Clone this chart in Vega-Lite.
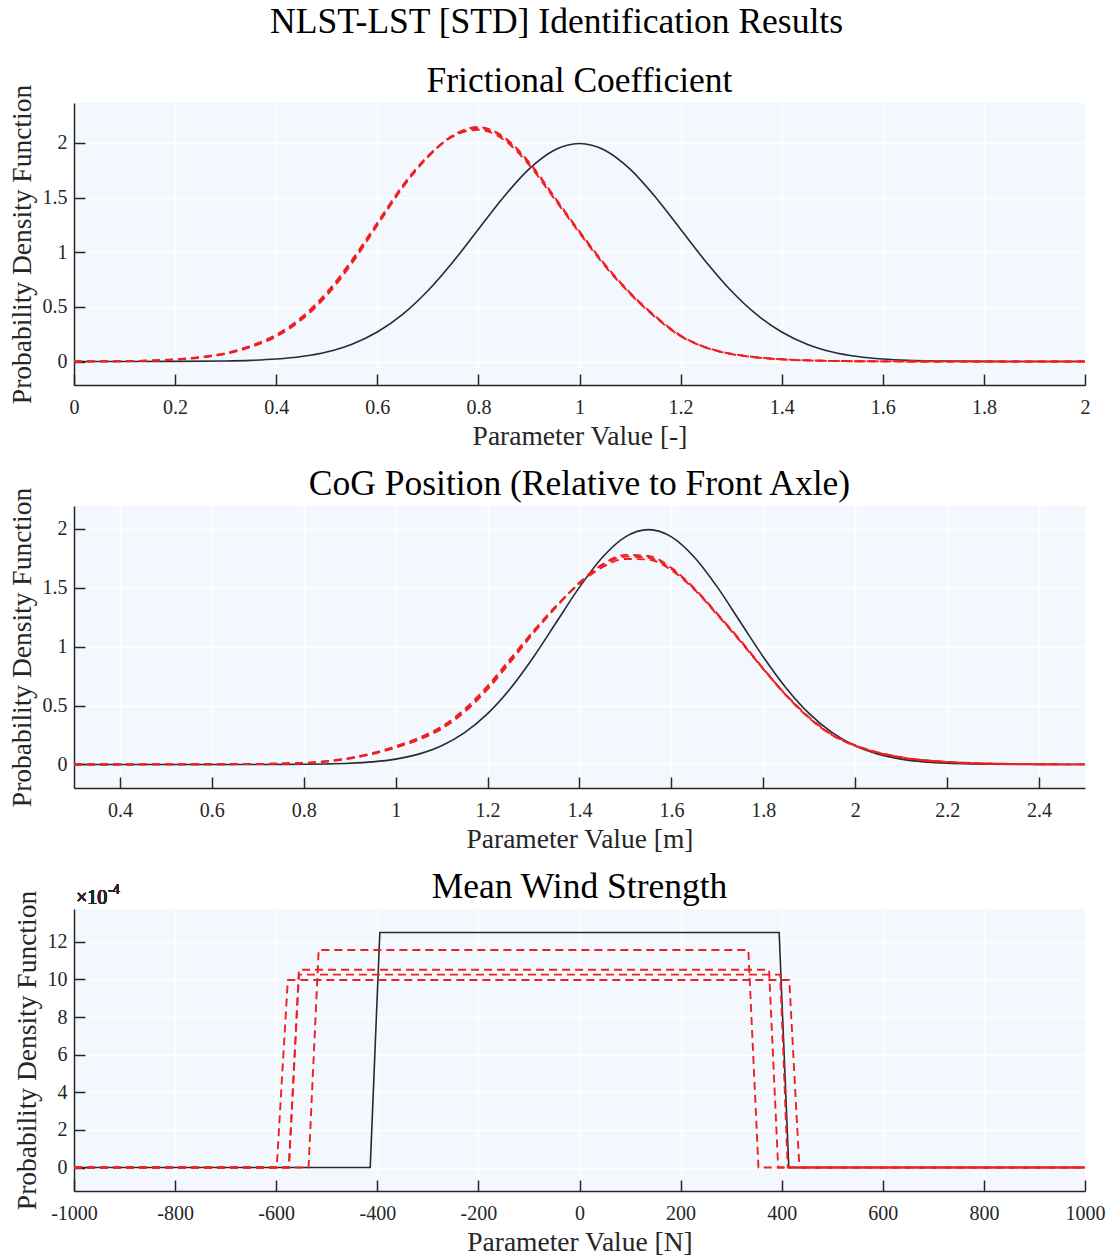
{
  "$schema": "https://vega.github.io/schema/vega-lite/v6.json",
  "background": "white",
  "padding": {"left": 7, "top": 5, "right": 20, "bottom": 0},
  "title": {"text": "NLST-LST [STD] Identification Results", "fontSize": 35.5, "font": "Liberation Serif", "fontWeight": "normal", "anchor": "middle", "color": "#000000", "offset": 23},
  "spacing": 16,
  "config": {
    "font": "Liberation Serif",
    "view": {"fill": "#F3F7FE", "stroke": null},
    "title": {"font": "Liberation Serif", "fontSize": 35.5, "fontWeight": "normal", "color": "#000000", "offset": -15},
    "axis": {"domainColor": "#262626", "domainWidth": 1.5, "tickColor": "#262626", "tickWidth": 1.5, "tickSize": -11, "gridColor": "#FFFFFF", "gridWidth": 1.5, "labelFont": "Liberation Serif", "labelFontSize": 20, "labelColor": "#262626", "titleFont": "Liberation Serif", "titleFontSize": 27.5, "titleFontWeight": "normal", "titleColor": "#262626", "labelFlush": false, "labelOverlap": false},
    "axisX": {"labelPadding": 23, "titlePadding": 5},
    "axisY": {"labelPadding": 18, "titlePadding": 6}
  },
  "datasets": {
    "fric": [
      {"value": 0, "density": 0, "series": "True"}, {"value": 0.1, "density": 0, "series": "True"}, {"value": 0.2, "density": 0.0007, "series": "True"}, {"value": 0.3, "density": 0.0044, "series": "True"}, {"value": 0.35, "density": 0.0101, "series": "True"}, {"value": 0.4, "density": 0.0222, "series": "True"}, {"value": 0.45, "density": 0.0455, "series": "True"}, {"value": 0.5, "density": 0.0876, "series": "True"}, {"value": 0.55, "density": 0.1587, "series": "True"}, {"value": 0.6, "density": 0.27, "series": "True"}, {"value": 0.65, "density": 0.4315, "series": "True"}, {"value": 0.7, "density": 0.6477, "series": "True"}, {"value": 0.75, "density": 0.9132, "series": "True"}, {"value": 0.8, "density": 1.2099, "series": "True"}, {"value": 0.85, "density": 1.5057, "series": "True"}, {"value": 0.9, "density": 1.7603, "series": "True"}, {"value": 0.95, "density": 1.9333, "series": "True"}, {"value": 1.0, "density": 1.9947, "series": "True"}, {"value": 1.05, "density": 1.9333, "series": "True"}, {"value": 1.1, "density": 1.7603, "series": "True"}, {"value": 1.15, "density": 1.5057, "series": "True"}, {"value": 1.2, "density": 1.2099, "series": "True"}, {"value": 1.25, "density": 0.9132, "series": "True"}, {"value": 1.3, "density": 0.6477, "series": "True"}, {"value": 1.35, "density": 0.4315, "series": "True"}, {"value": 1.4, "density": 0.27, "series": "True"}, {"value": 1.45, "density": 0.1587, "series": "True"}, {"value": 1.5, "density": 0.0876, "series": "True"}, {"value": 1.55, "density": 0.0455, "series": "True"}, {"value": 1.6, "density": 0.0222, "series": "True"}, {"value": 1.65, "density": 0.0101, "series": "True"}, {"value": 1.7, "density": 0.0044, "series": "True"}, {"value": 1.8, "density": 0.0007, "series": "True"}, {"value": 1.9, "density": 0.0001, "series": "True"}, {"value": 2.0, "density": 0, "series": "True"},
      {"value": 0, "density": 0.0003, "series": "Run 1"}, {"value": 0.1, "density": 0.003, "series": "Run 1"}, {"value": 0.2, "density": 0.018, "series": "Run 1"}, {"value": 0.25, "density": 0.038, "series": "Run 1"}, {"value": 0.3, "density": 0.072, "series": "Run 1"}, {"value": 0.35, "density": 0.138, "series": "Run 1"}, {"value": 0.4, "density": 0.236, "series": "Run 1"}, {"value": 0.45, "density": 0.392, "series": "Run 1"}, {"value": 0.5, "density": 0.615, "series": "Run 1"}, {"value": 0.55, "density": 0.912, "series": "Run 1"}, {"value": 0.6, "density": 1.255, "series": "Run 1"}, {"value": 0.65, "density": 1.598, "series": "Run 1"}, {"value": 0.7, "density": 1.872, "series": "Run 1"}, {"value": 0.75, "density": 2.065, "series": "Run 1"}, {"value": 0.8, "density": 2.135, "series": "Run 1"}, {"value": 0.85, "density": 2.045, "series": "Run 1"}, {"value": 0.9, "density": 1.815, "series": "Run 1"}, {"value": 0.95, "density": 1.5, "series": "Run 1"}, {"value": 1.0, "density": 1.185, "series": "Run 1"}, {"value": 1.05, "density": 0.885, "series": "Run 1"}, {"value": 1.1, "density": 0.625, "series": "Run 1"}, {"value": 1.15, "density": 0.41, "series": "Run 1"}, {"value": 1.2, "density": 0.235, "series": "Run 1"}, {"value": 1.25, "density": 0.128, "series": "Run 1"}, {"value": 1.3, "density": 0.07, "series": "Run 1"}, {"value": 1.35, "density": 0.038, "series": "Run 1"}, {"value": 1.4, "density": 0.02, "series": "Run 1"}, {"value": 1.45, "density": 0.01, "series": "Run 1"}, {"value": 1.5, "density": 0.005, "series": "Run 1"}, {"value": 1.6, "density": 0.0012, "series": "Run 1"}, {"value": 1.7, "density": 0.0003, "series": "Run 1"}, {"value": 1.8, "density": 0, "series": "Run 1"}, {"value": 2.0, "density": 0, "series": "Run 1"},
      {"value": 0, "density": 0.0004, "series": "Run 2"}, {"value": 0.1, "density": 0.0035, "series": "Run 2"}, {"value": 0.2, "density": 0.02, "series": "Run 2"}, {"value": 0.25, "density": 0.041, "series": "Run 2"}, {"value": 0.3, "density": 0.077, "series": "Run 2"}, {"value": 0.35, "density": 0.145, "series": "Run 2"}, {"value": 0.4, "density": 0.245, "series": "Run 2"}, {"value": 0.45, "density": 0.405, "series": "Run 2"}, {"value": 0.5, "density": 0.632, "series": "Run 2"}, {"value": 0.55, "density": 0.93, "series": "Run 2"}, {"value": 0.6, "density": 1.27, "series": "Run 2"}, {"value": 0.65, "density": 1.61, "series": "Run 2"}, {"value": 0.7, "density": 1.88, "series": "Run 2"}, {"value": 0.75, "density": 2.06, "series": "Run 2"}, {"value": 0.8, "density": 2.12, "series": "Run 2"}, {"value": 0.85, "density": 2.03, "series": "Run 2"}, {"value": 0.9, "density": 1.8, "series": "Run 2"}, {"value": 0.95, "density": 1.49, "series": "Run 2"}, {"value": 1.0, "density": 1.175, "series": "Run 2"}, {"value": 1.05, "density": 0.875, "series": "Run 2"}, {"value": 1.1, "density": 0.62, "series": "Run 2"}, {"value": 1.15, "density": 0.405, "series": "Run 2"}, {"value": 1.2, "density": 0.232, "series": "Run 2"}, {"value": 1.25, "density": 0.127, "series": "Run 2"}, {"value": 1.3, "density": 0.068, "series": "Run 2"}, {"value": 1.35, "density": 0.037, "series": "Run 2"}, {"value": 1.4, "density": 0.019, "series": "Run 2"}, {"value": 1.45, "density": 0.01, "series": "Run 2"}, {"value": 1.5, "density": 0.005, "series": "Run 2"}, {"value": 1.6, "density": 0.0012, "series": "Run 2"}, {"value": 1.7, "density": 0.0003, "series": "Run 2"}, {"value": 1.8, "density": 0, "series": "Run 2"}, {"value": 2.0, "density": 0, "series": "Run 2"},
      {"value": 0, "density": 0.0003, "series": "Run 3"}, {"value": 0.1, "density": 0.0028, "series": "Run 3"}, {"value": 0.2, "density": 0.017, "series": "Run 3"}, {"value": 0.25, "density": 0.036, "series": "Run 3"}, {"value": 0.3, "density": 0.07, "series": "Run 3"}, {"value": 0.35, "density": 0.132, "series": "Run 3"}, {"value": 0.4, "density": 0.228, "series": "Run 3"}, {"value": 0.45, "density": 0.382, "series": "Run 3"}, {"value": 0.5, "density": 0.603, "series": "Run 3"}, {"value": 0.55, "density": 0.9, "series": "Run 3"}, {"value": 0.6, "density": 1.245, "series": "Run 3"}, {"value": 0.65, "density": 1.59, "series": "Run 3"}, {"value": 0.7, "density": 1.87, "series": "Run 3"}, {"value": 0.75, "density": 2.07, "series": "Run 3"}, {"value": 0.8, "density": 2.145, "series": "Run 3"}, {"value": 0.85, "density": 2.055, "series": "Run 3"}, {"value": 0.9, "density": 1.825, "series": "Run 3"}, {"value": 0.95, "density": 1.51, "series": "Run 3"}, {"value": 1.0, "density": 1.19, "series": "Run 3"}, {"value": 1.05, "density": 0.89, "series": "Run 3"}, {"value": 1.1, "density": 0.63, "series": "Run 3"}, {"value": 1.15, "density": 0.415, "series": "Run 3"}, {"value": 1.2, "density": 0.238, "series": "Run 3"}, {"value": 1.25, "density": 0.13, "series": "Run 3"}, {"value": 1.3, "density": 0.071, "series": "Run 3"}, {"value": 1.35, "density": 0.039, "series": "Run 3"}, {"value": 1.4, "density": 0.021, "series": "Run 3"}, {"value": 1.45, "density": 0.011, "series": "Run 3"}, {"value": 1.5, "density": 0.005, "series": "Run 3"}, {"value": 1.6, "density": 0.0013, "series": "Run 3"}, {"value": 1.7, "density": 0.0003, "series": "Run 3"}, {"value": 1.8, "density": 0, "series": "Run 3"}, {"value": 2.0, "density": 0, "series": "Run 3"}
    ],
    "cog": [
      {"value": 0.3, "density": 0, "series": "True"}, {"value": 0.6, "density": 0, "series": "True"}, {"value": 0.7, "density": 0.0002, "series": "True"}, {"value": 0.8, "density": 0.0018, "series": "True"}, {"value": 0.85, "density": 0.0044, "series": "True"}, {"value": 0.9, "density": 0.0101, "series": "True"}, {"value": 0.95, "density": 0.0222, "series": "True"}, {"value": 1.0, "density": 0.0455, "series": "True"}, {"value": 1.05, "density": 0.0876, "series": "True"}, {"value": 1.1, "density": 0.1587, "series": "True"}, {"value": 1.15, "density": 0.27, "series": "True"}, {"value": 1.2, "density": 0.4315, "series": "True"}, {"value": 1.25, "density": 0.6477, "series": "True"}, {"value": 1.3, "density": 0.9132, "series": "True"}, {"value": 1.35, "density": 1.2099, "series": "True"}, {"value": 1.4, "density": 1.5057, "series": "True"}, {"value": 1.45, "density": 1.7603, "series": "True"}, {"value": 1.5, "density": 1.9333, "series": "True"}, {"value": 1.55, "density": 1.9947, "series": "True"}, {"value": 1.6, "density": 1.9333, "series": "True"}, {"value": 1.65, "density": 1.7603, "series": "True"}, {"value": 1.7, "density": 1.5057, "series": "True"}, {"value": 1.75, "density": 1.2099, "series": "True"}, {"value": 1.8, "density": 0.9132, "series": "True"}, {"value": 1.85, "density": 0.6477, "series": "True"}, {"value": 1.9, "density": 0.4315, "series": "True"}, {"value": 1.95, "density": 0.27, "series": "True"}, {"value": 2.0, "density": 0.1587, "series": "True"}, {"value": 2.05, "density": 0.0876, "series": "True"}, {"value": 2.1, "density": 0.0455, "series": "True"}, {"value": 2.15, "density": 0.0222, "series": "True"}, {"value": 2.2, "density": 0.0101, "series": "True"}, {"value": 2.25, "density": 0.0044, "series": "True"}, {"value": 2.3, "density": 0.0018, "series": "True"}, {"value": 2.4, "density": 0.0002, "series": "True"}, {"value": 2.5, "density": 0, "series": "True"},
      {"value": 0.3, "density": 0, "series": "Run 1"}, {"value": 0.5, "density": 0.0005, "series": "Run 1"}, {"value": 0.6, "density": 0.0015, "series": "Run 1"}, {"value": 0.7, "density": 0.004, "series": "Run 1"}, {"value": 0.8, "density": 0.012, "series": "Run 1"}, {"value": 0.85, "density": 0.026, "series": "Run 1"}, {"value": 0.9, "density": 0.052, "series": "Run 1"}, {"value": 0.95, "density": 0.092, "series": "Run 1"}, {"value": 1.0, "density": 0.148, "series": "Run 1"}, {"value": 1.05, "density": 0.215, "series": "Run 1"}, {"value": 1.1, "density": 0.31, "series": "Run 1"}, {"value": 1.15, "density": 0.455, "series": "Run 1"}, {"value": 1.2, "density": 0.65, "series": "Run 1"}, {"value": 1.25, "density": 0.885, "series": "Run 1"}, {"value": 1.3, "density": 1.125, "series": "Run 1"}, {"value": 1.35, "density": 1.345, "series": "Run 1"}, {"value": 1.4, "density": 1.54, "series": "Run 1"}, {"value": 1.45, "density": 1.69, "series": "Run 1"}, {"value": 1.5, "density": 1.765, "series": "Run 1"}, {"value": 1.55, "density": 1.755, "series": "Run 1"}, {"value": 1.6, "density": 1.66, "series": "Run 1"}, {"value": 1.65, "density": 1.49, "series": "Run 1"}, {"value": 1.7, "density": 1.275, "series": "Run 1"}, {"value": 1.75, "density": 1.05, "series": "Run 1"}, {"value": 1.8, "density": 0.81, "series": "Run 1"}, {"value": 1.85, "density": 0.585, "series": "Run 1"}, {"value": 1.9, "density": 0.395, "series": "Run 1"}, {"value": 1.95, "density": 0.25, "series": "Run 1"}, {"value": 2.0, "density": 0.16, "series": "Run 1"}, {"value": 2.05, "density": 0.1, "series": "Run 1"}, {"value": 2.1, "density": 0.06, "series": "Run 1"}, {"value": 2.15, "density": 0.036, "series": "Run 1"}, {"value": 2.2, "density": 0.021, "series": "Run 1"}, {"value": 2.3, "density": 0.007, "series": "Run 1"}, {"value": 2.4, "density": 0.002, "series": "Run 1"}, {"value": 2.5, "density": 0.0005, "series": "Run 1"},
      {"value": 0.3, "density": 0, "series": "Run 2"}, {"value": 0.5, "density": 0.0005, "series": "Run 2"}, {"value": 0.6, "density": 0.0017, "series": "Run 2"}, {"value": 0.7, "density": 0.0045, "series": "Run 2"}, {"value": 0.8, "density": 0.013, "series": "Run 2"}, {"value": 0.85, "density": 0.028, "series": "Run 2"}, {"value": 0.9, "density": 0.056, "series": "Run 2"}, {"value": 0.95, "density": 0.097, "series": "Run 2"}, {"value": 1.0, "density": 0.155, "series": "Run 2"}, {"value": 1.05, "density": 0.225, "series": "Run 2"}, {"value": 1.1, "density": 0.322, "series": "Run 2"}, {"value": 1.15, "density": 0.47, "series": "Run 2"}, {"value": 1.2, "density": 0.668, "series": "Run 2"}, {"value": 1.25, "density": 0.9, "series": "Run 2"}, {"value": 1.3, "density": 1.135, "series": "Run 2"}, {"value": 1.35, "density": 1.35, "series": "Run 2"}, {"value": 1.4, "density": 1.535, "series": "Run 2"}, {"value": 1.45, "density": 1.675, "series": "Run 2"}, {"value": 1.5, "density": 1.745, "series": "Run 2"}, {"value": 1.55, "density": 1.74, "series": "Run 2"}, {"value": 1.6, "density": 1.65, "series": "Run 2"}, {"value": 1.65, "density": 1.485, "series": "Run 2"}, {"value": 1.7, "density": 1.27, "series": "Run 2"}, {"value": 1.75, "density": 1.045, "series": "Run 2"}, {"value": 1.8, "density": 0.81, "series": "Run 2"}, {"value": 1.85, "density": 0.59, "series": "Run 2"}, {"value": 1.9, "density": 0.4, "series": "Run 2"}, {"value": 1.95, "density": 0.255, "series": "Run 2"}, {"value": 2.0, "density": 0.163, "series": "Run 2"}, {"value": 2.05, "density": 0.102, "series": "Run 2"}, {"value": 2.1, "density": 0.062, "series": "Run 2"}, {"value": 2.15, "density": 0.037, "series": "Run 2"}, {"value": 2.2, "density": 0.022, "series": "Run 2"}, {"value": 2.3, "density": 0.007, "series": "Run 2"}, {"value": 2.4, "density": 0.002, "series": "Run 2"}, {"value": 2.5, "density": 0.0005, "series": "Run 2"},
      {"value": 0.3, "density": 0, "series": "Run 3"}, {"value": 0.5, "density": 0.0004, "series": "Run 3"}, {"value": 0.6, "density": 0.0014, "series": "Run 3"}, {"value": 0.7, "density": 0.0038, "series": "Run 3"}, {"value": 0.8, "density": 0.011, "series": "Run 3"}, {"value": 0.85, "density": 0.025, "series": "Run 3"}, {"value": 0.9, "density": 0.05, "series": "Run 3"}, {"value": 0.95, "density": 0.089, "series": "Run 3"}, {"value": 1.0, "density": 0.143, "series": "Run 3"}, {"value": 1.05, "density": 0.21, "series": "Run 3"}, {"value": 1.1, "density": 0.302, "series": "Run 3"}, {"value": 1.15, "density": 0.445, "series": "Run 3"}, {"value": 1.2, "density": 0.638, "series": "Run 3"}, {"value": 1.25, "density": 0.872, "series": "Run 3"}, {"value": 1.3, "density": 1.115, "series": "Run 3"}, {"value": 1.35, "density": 1.34, "series": "Run 3"}, {"value": 1.4, "density": 1.545, "series": "Run 3"}, {"value": 1.45, "density": 1.7, "series": "Run 3"}, {"value": 1.5, "density": 1.78, "series": "Run 3"}, {"value": 1.55, "density": 1.77, "series": "Run 3"}, {"value": 1.6, "density": 1.67, "series": "Run 3"}, {"value": 1.65, "density": 1.495, "series": "Run 3"}, {"value": 1.7, "density": 1.28, "series": "Run 3"}, {"value": 1.75, "density": 1.055, "series": "Run 3"}, {"value": 1.8, "density": 0.815, "series": "Run 3"}, {"value": 1.85, "density": 0.585, "series": "Run 3"}, {"value": 1.9, "density": 0.392, "series": "Run 3"}, {"value": 1.95, "density": 0.248, "series": "Run 3"}, {"value": 2.0, "density": 0.157, "series": "Run 3"}, {"value": 2.05, "density": 0.098, "series": "Run 3"}, {"value": 2.1, "density": 0.058, "series": "Run 3"}, {"value": 2.15, "density": 0.035, "series": "Run 3"}, {"value": 2.2, "density": 0.02, "series": "Run 3"}, {"value": 2.3, "density": 0.006, "series": "Run 3"}, {"value": 2.4, "density": 0.002, "series": "Run 3"}, {"value": 2.5, "density": 0.0004, "series": "Run 3"}
    ],
    "wind": [
      {"value": -1000, "density": 0, "series": "True"}, {"value": -414, "density": 0, "series": "True"}, {"value": -395, "density": 0.00125, "series": "True"}, {"value": 395, "density": 0.00125, "series": "True"}, {"value": 414, "density": 0, "series": "True"}, {"value": 1000, "density": 0, "series": "True"},
      {"value": -1000, "density": 0, "series": "Run 1"}, {"value": -599, "density": 0, "series": "Run 1"}, {"value": -577, "density": 0.000997, "series": "Run 1"}, {"value": 415, "density": 0.000997, "series": "Run 1"}, {"value": 435, "density": 0, "series": "Run 1"}, {"value": 1000, "density": 0, "series": "Run 1"},
      {"value": -1000, "density": 0, "series": "Run 2"}, {"value": -575, "density": 0, "series": "Run 2"}, {"value": -555, "density": 0.001052, "series": "Run 2"}, {"value": 375, "density": 0.001052, "series": "Run 2"}, {"value": 393, "density": 0, "series": "Run 2"}, {"value": 1000, "density": 0, "series": "Run 2"},
      {"value": -1000, "density": 0, "series": "Run 3"}, {"value": -536, "density": 0, "series": "Run 3"}, {"value": -516, "density": 0.001157, "series": "Run 3"}, {"value": 334, "density": 0.001157, "series": "Run 3"}, {"value": 354, "density": 0, "series": "Run 3"}, {"value": 1000, "density": 0, "series": "Run 3"},
      {"value": -1000, "density": 0, "series": "Run 4"}, {"value": -575, "density": 0, "series": "Run 4"}, {"value": -555, "density": 0.001026, "series": "Run 4"}, {"value": 397, "density": 0.001026, "series": "Run 4"}, {"value": 412, "density": 0, "series": "Run 4"}, {"value": 1000, "density": 0, "series": "Run 4"}
    ]
  },
  "vconcat": [
    {
      "width": 1011, "height": 282,
      "title": {"text": "Frictional Coefficient", "frame": "group", "anchor": "middle"},
      "data": {"name": "fric"},
      "encoding": {
        "x": {"field": "value", "type": "quantitative", "scale": {"domain": [0, 2], "nice": false, "zero": false}, "axis": {"title": "Parameter Value [-]", "values": [0, 0.2, 0.4, 0.6, 0.8, 1, 1.2, 1.4, 1.6, 1.8, 2], "labelExpr": "datum.value + ''"}},
        "y": {"field": "density", "type": "quantitative", "scale": {"domain": [-0.215, 2.365], "nice": false, "zero": false}, "axis": {"title": "Probability Density Function", "values": [0, 0.5, 1, 1.5, 2], "labelExpr": "datum.value + ''"}}
      },
      "layer": [
        {"transform": [{"filter": "datum.series === 'True'"}], "mark": {"type": "line", "color": "#262A33", "strokeWidth": 1.6, "interpolate": "monotone"}},
        {"transform": [{"filter": "datum.series !== 'True'"}], "mark": {"type": "line", "color": "#F02020", "strokeWidth": 1.9, "strokeDash": [8, 5], "interpolate": "monotone"}, "encoding": {"detail": {"field": "series"}}}
      ]
    },
    {
      "width": 1011, "height": 282,
      "title": {"text": "CoG Position (Relative to Front Axle)", "frame": "group", "anchor": "middle"},
      "data": {"name": "cog"},
      "encoding": {
        "x": {"field": "value", "type": "quantitative", "scale": {"domain": [0.3, 2.5], "nice": false, "zero": false}, "axis": {"title": "Parameter Value [m]", "values": [0.4, 0.6, 0.8, 1, 1.2, 1.4, 1.6, 1.8, 2, 2.2, 2.4], "labelExpr": "datum.value + ''"}},
        "y": {"field": "density", "type": "quantitative", "scale": {"domain": [-0.2, 2.195], "nice": false, "zero": false}, "axis": {"title": "Probability Density Function", "values": [0, 0.5, 1, 1.5, 2], "labelExpr": "datum.value + ''"}}
      },
      "layer": [
        {"transform": [{"filter": "datum.series === 'True'"}], "mark": {"type": "line", "color": "#262A33", "strokeWidth": 1.6, "interpolate": "monotone"}},
        {"transform": [{"filter": "datum.series !== 'True'"}], "mark": {"type": "line", "color": "#F02020", "strokeWidth": 1.9, "strokeDash": [8, 5], "interpolate": "monotone"}, "encoding": {"detail": {"field": "series"}}}
      ]
    },
    {
      "width": 1011, "height": 282,
      "title": {"text": "Mean Wind Strength", "frame": "group", "anchor": "middle", "offset": -22},
      "data": {"name": "wind"},
      "encoding": {
        "x": {"field": "value", "type": "quantitative", "scale": {"domain": [-1000, 1000], "nice": false, "zero": false}, "axis": {"title": "Parameter Value [N]", "values": [-1000, -800, -600, -400, -200, 0, 200, 400, 600, 800, 1000], "labelExpr": "datum.value + ''"}},
        "y": {"field": "density", "type": "quantitative", "scale": {"domain": [-0.000125, 0.001375], "nice": false, "zero": false}, "axis": {"title": "Probability Density Function", "values": [0, 0.0002, 0.0004, 0.0006, 0.0008, 0.001, 0.0012], "labelExpr": "round(datum.value * 10000) + ''"}}
      },
      "layer": [
        {"transform": [{"filter": "datum.series === 'True'"}], "mark": {"type": "line", "color": "#262A33", "strokeWidth": 1.6}},
        {"transform": [{"filter": "datum.series !== 'True'"}], "mark": {"type": "line", "color": "#F02020", "strokeWidth": 1.9, "strokeDash": [8, 5]}, "encoding": {"detail": {"field": "series"}}},
        {"mark": {"type": "text", "text": "×10", "align": "left", "baseline": "alphabetic", "dx": 2, "dy": -5, "fontSize": 20, "color": "#262626", "font": "Liberation Serif"}, "encoding": {"x": {"datum": -1000}, "y": {"datum": 0.001375}}},
        {"mark": {"type": "text", "text": "-4", "align": "left", "baseline": "alphabetic", "dx": 34, "dy": -15, "fontSize": 14, "color": "#262626", "font": "Liberation Serif"}, "encoding": {"x": {"datum": -1000}, "y": {"datum": 0.001375}}}
      ]
    }
  ]
}
